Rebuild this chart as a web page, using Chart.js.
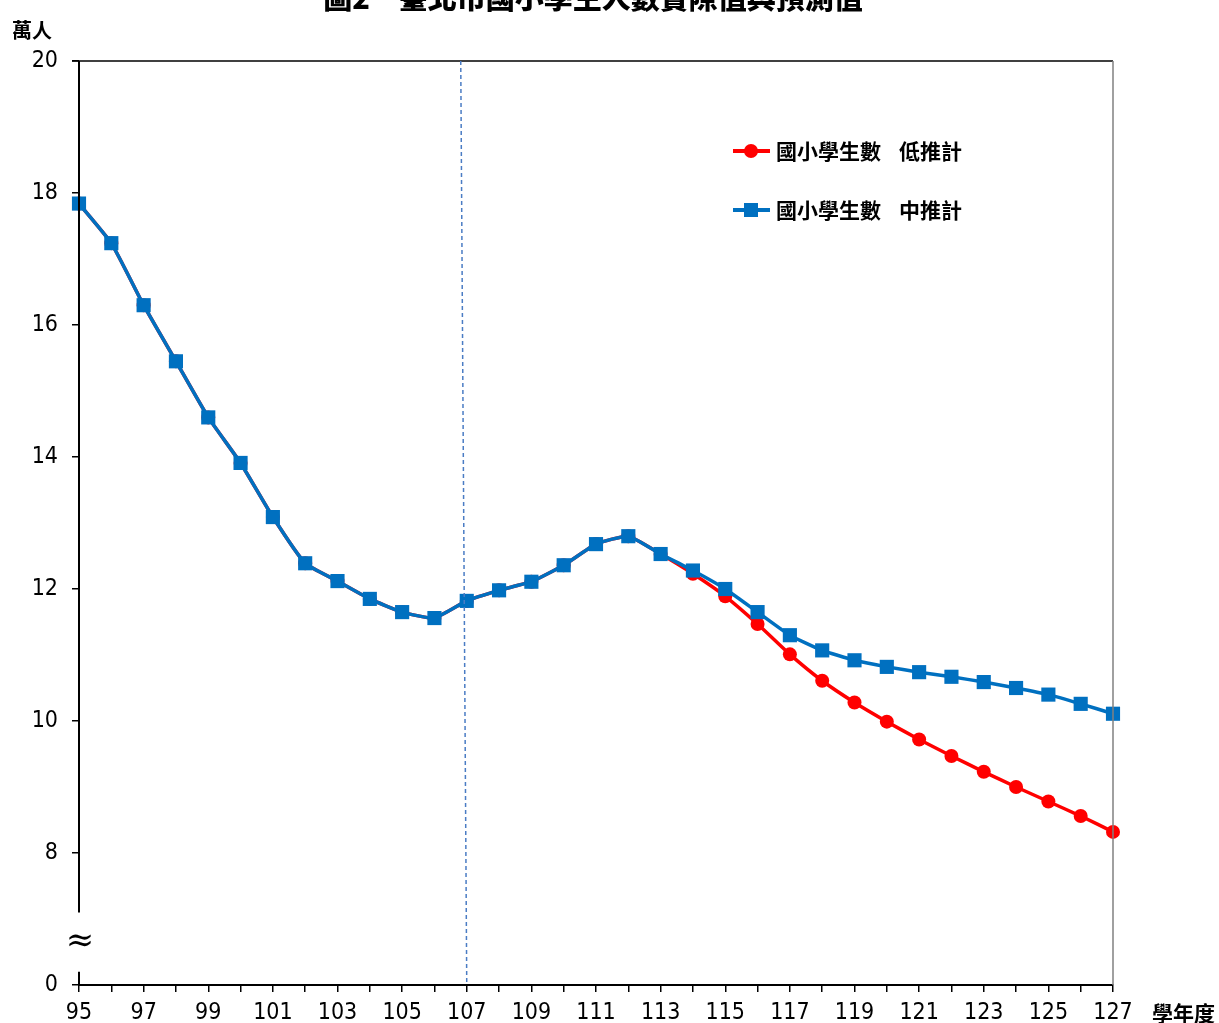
<!DOCTYPE html>
<html>
<head>
<meta charset="utf-8">
<script src="https://cdn.jsdelivr.net/npm/chart.js@4/dist/chart.umd.min.js"></script>
<style>
  body { margin: 0; background: #fff; }
  #wrap { width: 1219px; height: 1023px; }
</style>
</head>
<body>
<div id="wrap"><canvas id="lineChart" width="1219" height="1023"></canvas></div>
<script>
// 學年度
const years = [95, 96, 97, 98, 99, 100, 101, 102, 103, 104, 105, 106, 107, 108, 109, 110,
  111, 112, 113, 114, 115, 116, 117, 118, 119, 120, 121, 122, 123, 124, 125, 126, 127];

// 國小學生數 中推計 (萬人)
const midValues = [17.84, 17.24, 16.30, 15.45, 14.60, 13.91, 13.09, 12.39, 12.12, 11.85, 11.65, 11.56,
  11.82, 11.98, 12.11, 12.36, 12.68, 12.80, 12.53, 12.28, 12.00, 11.65, 11.30, 11.07, 10.92, 10.82,
  10.74, 10.67, 10.59, 10.50, 10.40, 10.26, 10.11];

// 國小學生數 低推計 (萬人)
const lowValues = [17.84, 17.24, 16.30, 15.45, 14.60, 13.91, 13.09, 12.39, 12.12, 11.85, 11.65, 11.56,
  11.82, 11.98, 12.11, 12.36, 12.68, 12.80, 12.53, 12.23, 11.89, 11.47, 11.01, 10.61, 10.28, 9.99,
  9.72, 9.47, 9.23, 9.00, 8.78, 8.56, 8.32];

const yTicks = [6, 8, 10, 12, 14, 16, 18, 20];
const actualLastYear = 107;

const NUM_FONT = "'DejaVu Sans Condensed', 'DejaVu Sans', sans-serif";
const CJK_FONT = "'Noto Sans CJK TC', 'Noto Sans CJK SC', sans-serif";

const extras = {
  id: "extras",
  afterDraw(chart) {
    const ctx = chart.ctx;
    const area = chart.chartArea;
    const x = chart.scales.x;
    const y = chart.scales.y;
    ctx.save();

    // top and right frame
    ctx.lineWidth = 1.5;
    ctx.strokeStyle = "#000";
    ctx.beginPath();
    ctx.moveTo(area.left - 7, area.top);
    ctx.lineTo(area.right, area.top);
    ctx.stroke();
    ctx.strokeStyle = "#808080";
    ctx.beginPath();
    ctx.moveTo(area.right, area.top);
    ctx.lineTo(area.right, area.bottom);
    ctx.stroke();

    // left axis with break
    const breakTop = y.getPixelForValue(7.1);
    const breakBottom = y.getPixelForValue(6.2);
    ctx.strokeStyle = "#000";
    ctx.lineWidth = 2;
    ctx.beginPath();
    ctx.moveTo(area.left, area.top);
    ctx.lineTo(area.left, breakTop);
    ctx.moveTo(area.left, breakBottom);
    ctx.lineTo(area.left, area.bottom);
    ctx.stroke();
    ctx.fillStyle = "#000";
    ctx.font = "34px 'DejaVu Serif', serif";
    ctx.textAlign = "center";
    ctx.textBaseline = "middle";
    ctx.fillText("≈", area.left + 1, (breakTop + breakBottom) / 2);

    // split between actual and projected values
    const idx = years.indexOf(actualLastYear);
    const xb = x.getPixelForValue(idx);
    ctx.strokeStyle = "#4a7cc4";
    ctx.lineWidth = 1.5;
    ctx.setLineDash([4, 3]);
    ctx.beginPath();
    ctx.moveTo(xb - 6, area.top);
    ctx.lineTo(xb, area.bottom);
    ctx.stroke();
    ctx.setLineDash([]);

    // legend
    const legendItems = [chart.data.datasets[1], chart.data.datasets[0]];
    let ly = 151;
    legendItems.forEach(function (ds) {
      ctx.strokeStyle = ds.borderColor;
      ctx.fillStyle = ds.backgroundColor;
      ctx.lineWidth = 4;
      ctx.beginPath();
      ctx.moveTo(733, ly);
      ctx.lineTo(770, ly);
      ctx.stroke();
      if (ds.pointStyle === "rect") {
        ctx.fillRect(744, ly - 7, 14, 14);
      } else {
        ctx.beginPath();
        ctx.arc(751, ly, 7, 0, Math.PI * 2);
        ctx.fill();
      }
      ctx.fillStyle = "#000";
      ctx.font = "bold 21px " + CJK_FONT;
      ctx.textAlign = "left";
      ctx.textBaseline = "middle";
      const parts = ds.label.split(" ");
      ctx.fillText(parts[0], 776, ly);
      ctx.fillText(parts[1], 899, ly);
      ly += 59;
    });

    // title (cut at the top edge) and unit labels
    ctx.fillStyle = "#000";
    ctx.font = "900 29px " + CJK_FONT;
    ctx.textAlign = "center";
    ctx.textBaseline = "bottom";
    ctx.fillText("圖2　臺北市國小學生人數實際值與預測值", 593, 12);

    ctx.font = "bold 20px " + CJK_FONT;
    ctx.textAlign = "left";
    ctx.textBaseline = "middle";
    ctx.fillText("萬人", 12, 30);
    ctx.font = "bold 21px " + CJK_FONT;
    ctx.fillText("學年度", 1152, 1013);

    ctx.restore();
  },
};

new Chart(document.getElementById("lineChart"), {
  type: "line",
  data: {
    labels: years,
    datasets: [
      {
        label: "國小學生數 中推計",
        data: midValues,
        borderColor: "#0070C0",
        backgroundColor: "#0070C0",
        borderWidth: 3.5,
        pointStyle: "rect",
        pointRadius: 10,
        pointBorderWidth: 0,
        tension: 0.15,
      },
      {
        label: "國小學生數 低推計",
        data: lowValues,
        borderColor: "#FF0000",
        backgroundColor: "#FF0000",
        borderWidth: 3.5,
        pointStyle: "circle",
        pointRadius: 7,
        pointBorderWidth: 0,
        tension: 0.15,
      },
    ],
  },
  options: {
    responsive: false,
    animation: false,
    layout: {
      padding: { top: 61, right: 106, left: 0, bottom: 0 },
    },
    plugins: {
      legend: { display: false },
      tooltip: { enabled: false },
    },
    scales: {
      x: {
        grid: { drawOnChartArea: false, tickLength: 7, color: "#000", lineWidth: 1.5 },
        border: { display: true, color: "#000", width: 2 },
        ticks: {
          autoSkip: false,
          maxRotation: 0,
          color: "#000",
          padding: 7,
          font: { family: NUM_FONT, size: 23, style: "condensed" },
          callback: function (value, index) {
            return years[index] % 2 === 1 ? String(years[index]) : "";
          },
        },
        afterFit: function (scale) {
          scale.height = 38;
        },
      },
      y: {
        min: yTicks[0],
        max: yTicks[yTicks.length - 1],
        grid: { drawOnChartArea: false, tickLength: 7, color: "#000", lineWidth: 1.5 },
        border: { display: false },
        afterBuildTicks: function (scale) {
          scale.ticks = yTicks.map(function (v) { return { value: v }; });
        },
        ticks: {
          color: "#000",
          padding: 14,
          font: { family: NUM_FONT, size: 23, style: "condensed" },
          callback: function (value) {
            return value === yTicks[0] ? "0" : String(value);
          },
        },
        afterFit: function (scale) {
          scale.width = 79;
        },
      },
    },
  },
  plugins: [extras],
});
</script>
</body>
</html>
